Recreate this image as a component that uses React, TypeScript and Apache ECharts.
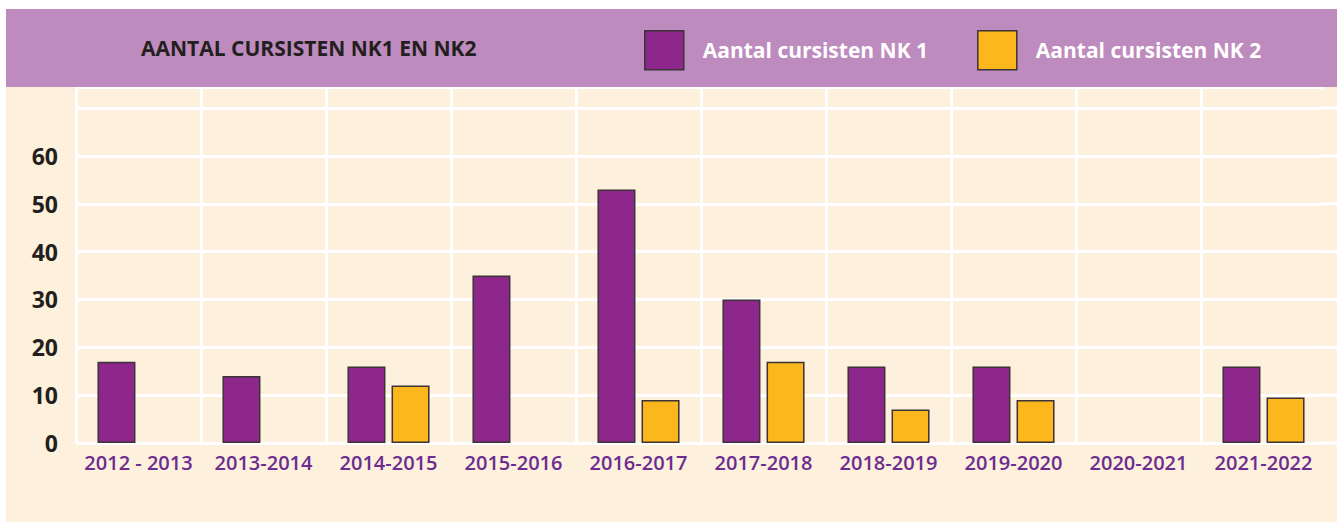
import React, { useEffect, useRef } from "react";
import * as echarts from "echarts";

const categories = [
  "2012 - 2013", "2013-2014", "2014-2015", "2015-2016", "2016-2017",
  "2017-2018", "2018-2019", "2019-2020", "2020-2021", "2021-2022",
];
const nk1Values: (number | null)[] = [17, 14, 16, 35, 53, 30, 16, 16, null, 16];
const nk2Values: (number | null)[] = [null, null, 12, null, 9, 17, 7, 9, null, 9.5];
const seriesNames = ["Aantal cursisten NK 1", "Aantal cursisten NK 2"];
const titleText = "AANTAL CURSISTEN NK1 EN NK2";
const yTicks = [0, 10, 20, 30, 40, 50, 60, 70];
const yTickMaxLabel = 60;

const FONT = "'Open Sans', 'Noto Sans', sans-serif";

export default function App() {
  const ref = useRef<HTMLDivElement>(null);
  useEffect(() => {
    if (!ref.current) return;
    const chart = echarts.init(ref.current, undefined, { renderer: "svg" });
    const barBorder = { borderColor: "#3b3335", borderWidth: 1.5 };
    const baseGraphic: any[] = [
      { id: "cream", type: "rect", z: -1, shape: { x: 6, y: 87, width: 1331, height: 435 }, style: { fill: "#fdf0dc" }, silent: true },
      { id: "band", type: "rect", z: 5, shape: { x: 6, y: 9, width: 1331, height: 78 }, style: { fill: "#bd8bbd" }, silent: true },
      {
        id: "title", type: "text", z: 6, left: 141, top: 37,
        style: { text: titleText, fill: "#231f20", font: `bold 21px ${FONT}` },
      },
    ];
    chart.setOption({
      animation: false,
      backgroundColor: "transparent",
      graphic: baseGraphic,
      legend: {
        z: 10,
        left: 644,
        top: 30,
        padding: 0,
        itemWidth: 39,
        itemHeight: 39,
        itemGap: 49,
        icon: "rect",
        itemStyle: { borderColor: "#3b3335", borderWidth: 1.5 },
        textStyle: { color: "#ffffff", fontFamily: FONT, fontWeight: "bold", fontSize: 21, padding: [0, 0, 0, 14] },
        data: seriesNames,
      },
      grid: { left: 76, right: 11, top: 87, bottom: 80, containLabel: false },
      xAxis: {
        type: "category",
        data: categories,
        boundaryGap: true,
        axisLine: { show: false },
        axisTick: { show: false },
        axisLabel: { color: "#6c2c90", fontFamily: FONT, fontWeight: 600, fontSize: 20, margin: 9, interval: 0 },
        splitLine: { show: true, interval: 0, lineStyle: { color: "#ffffff", width: 3 } },
      },
      yAxis: {
        type: "value",
        min: 0,
        max: 74.4,
        interval: 10,
        axisLine: { show: false },
        axisTick: { show: false },
        axisLabel: {
          color: "#231f20", fontFamily: FONT, fontWeight: "bold", fontSize: 23, margin: 18,
          formatter: (v: number) => (v <= yTickMaxLabel && v % 10 === 0 ? String(v) : ""),
        },
        splitLine: { show: true, lineStyle: { color: "#ffffff", width: 3 } },
      },
      series: [
        { name: seriesNames[0], type: "bar", data: nk1Values, barWidth: 38, barGap: "16%", itemStyle: { color: "#8e278b", ...barBorder } },
        { name: seriesNames[1], type: "bar", data: nk2Values, barWidth: 38, barGap: "16%", itemStyle: { color: "#fcb71c", ...barBorder } },
      ],
    });
    // hide the closing vertical line at the right and extend horizontal lines to the panel edge
    const xRight = chart.convertToPixel({ xAxisIndex: 0 }, categories.length - 1) as number;
    const catW = (xRight - 76) / (categories.length - 0.5);
    const rightEdge = xRight + catW / 2;
    const yTop = chart.convertToPixel({ yAxisIndex: 0 }, 74.4) as number;
    const yBottom = chart.convertToPixel({ yAxisIndex: 0 }, 0) as number;
    const cover = {
      id: "cover", type: "rect", z: 1, silent: true,
      shape: { x: rightEdge - 3, y: yTop, width: 6, height: yBottom - yTop + 2 },
      style: { fill: "#fdf0dc" },
    };
    const ext = yTicks.map((v, i) => {
      const y = chart.convertToPixel({ yAxisIndex: 0 }, v) as number;
      return {
        id: "ext" + i, type: "line", z: 2, silent: true,
        shape: { x1: rightEdge - 6, y1: y, x2: 1337, y2: y },
        style: { stroke: "#ffffff", lineWidth: 3 },
      };
    });
    chart.setOption({ graphic: [...baseGraphic, cover, ...ext] });
    return () => chart.dispose();
  }, []);
  return <div ref={ref} style={{ position: "absolute", left: 0, top: 0, width: 1337, height: 523 }} />;
}
